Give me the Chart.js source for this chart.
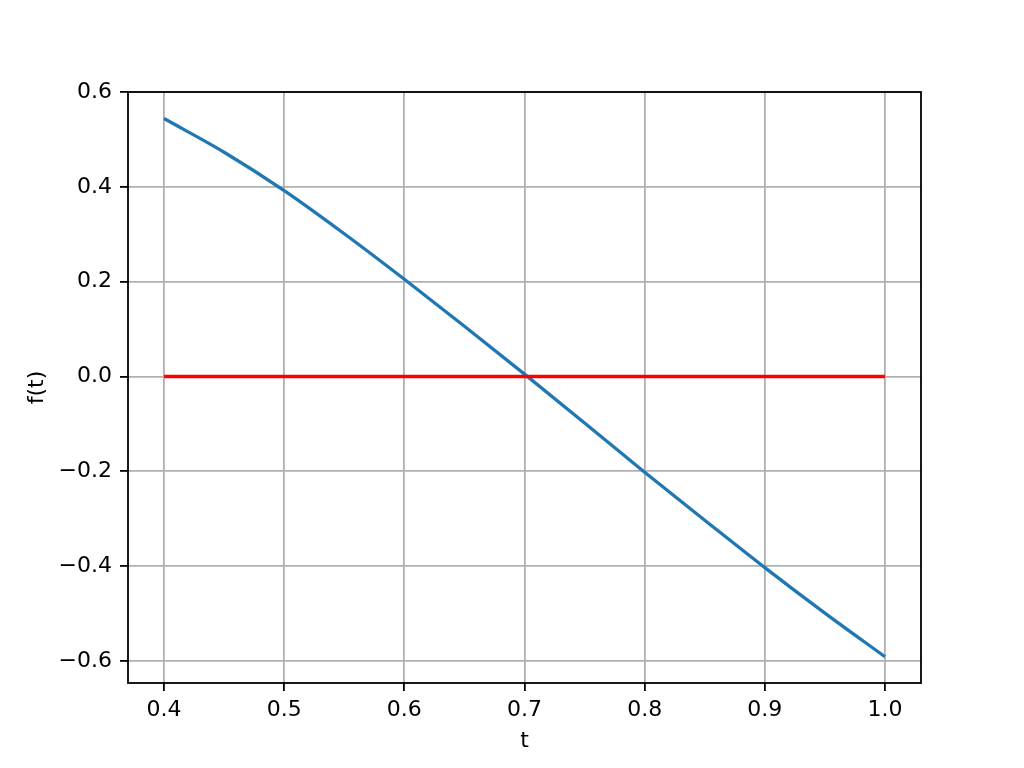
<!DOCTYPE html>
<html>
<head>
<meta charset="utf-8">
<script src="https://cdn.jsdelivr.net/npm/chart.js@4"></script>
<style>
  html, body { margin: 0; padding: 0; background: #ffffff; }
  #c { display: block; }
</style>
</head>
<body>
<canvas id="c" width="1024" height="768"></canvas>
<script>
// ---- data ----
const tValues = [0.40, 0.45, 0.50, 0.55, 0.60, 0.65, 0.70, 0.75, 0.80, 0.85, 0.90, 0.95, 1.00];
const fValues = [0.544, 0.473, 0.392, 0.301, 0.205, 0.106, 0.005, -0.098, -0.202, -0.303, -0.403, -0.499, -0.591];
const zeroLineT = [0.40, 1.00];
const zeroLineF = [0.0, 0.0];
const xTicks = [0.4, 0.5, 0.6, 0.7, 0.8, 0.9, 1.0];
const yTicks = [-0.6, -0.4, -0.2, 0.0, 0.2, 0.4, 0.6];
const xLabel = 't';
const yLabel = 'f(t)';

const toPoints = (xs, ys) => xs.map((x, i) => ({ x: x, y: ys[i] }));
const fmt = v => (v < -1e-9 ? '\u2212' : '') + Math.abs(v).toFixed(1);

const FONT = { family: 'DejaVu Sans', size: 22 };

const framePlugin = {
  id: 'frame',
  beforeDraw(chart) {
    const ctx = chart.ctx;
    ctx.save();
    ctx.fillStyle = '#ffffff';
    ctx.fillRect(0, 0, chart.width, chart.height);
    ctx.restore();
  },
  afterDatasetsDraw(chart) {
    const { ctx, chartArea: a } = chart;
    ctx.save();
    ctx.strokeStyle = '#000000';
    ctx.lineWidth = 1.8;
    ctx.strokeRect(a.left, a.top, a.right - a.left, a.bottom - a.top);
    ctx.restore();
  }
};

new Chart(document.getElementById('c'), {
  type: 'line',
  data: {
    datasets: [
      {
        label: 'zero',
        data: toPoints(zeroLineT, zeroLineF),
        borderColor: '#ff0000',
        borderWidth: 3.3,
        pointRadius: 0,
        fill: false
      },
      {
        label: 'f(t)',
        data: toPoints(tValues, fValues),
        borderColor: '#1f77b4',
        borderWidth: 3.3,
        pointRadius: 0,
        fill: false,
        cubicInterpolationMode: 'monotone'
      }
    ]
  },
  options: {
    responsive: false,
    animation: false,
    devicePixelRatio: 1,
    layout: { padding: { left: 0, top: 92, right: 103, bottom: 0 } },
    plugins: {
      legend: { display: false },
      tooltip: { enabled: false },
      title: { display: false }
    },
    scales: {
      x: {
        type: 'linear',
        min: 0.37,
        max: 1.03,
        afterBuildTicks: s => { s.ticks = xTicks.map(v => ({ value: v })); },
        afterFit: s => { s.height = 85; },
        ticks: {
          callback: v => fmt(v),
          font: FONT,
          color: '#000000',
          padding: 6,
          maxRotation: 0,
          autoSkip: false
        },
        grid: {
          color: '#b0b0b0',
          lineWidth: 1.8,
          drawTicks: true,
          tickLength: 8,
          tickColor: '#000000',
          tickWidth: 1.8
        },
        border: { display: false },
        title: {
          display: true,
          text: xLabel,
          font: FONT,
          color: '#000000',
          padding: { top: 0, bottom: 14 }
        }
      },
      y: {
        type: 'linear',
        min: -0.6464,
        max: 0.6,
        afterBuildTicks: s => { s.ticks = yTicks.map(v => ({ value: v })); },
        afterFit: s => { s.width = 128; },
        ticks: {
          callback: v => fmt(v),
          font: FONT,
          color: '#000000',
          padding: 8,
          autoSkip: false
        },
        grid: {
          color: '#b0b0b0',
          lineWidth: 1.8,
          drawTicks: true,
          tickLength: 8,
          tickColor: '#000000',
          tickWidth: 1.8
        },
        border: { display: false },
        title: {
          display: true,
          text: yLabel,
          font: FONT,
          color: '#000000',
          padding: { top: 24, bottom: 0 }
        }
      }
    }
  },
  plugins: [framePlugin]
});
</script>
</body>
</html>
